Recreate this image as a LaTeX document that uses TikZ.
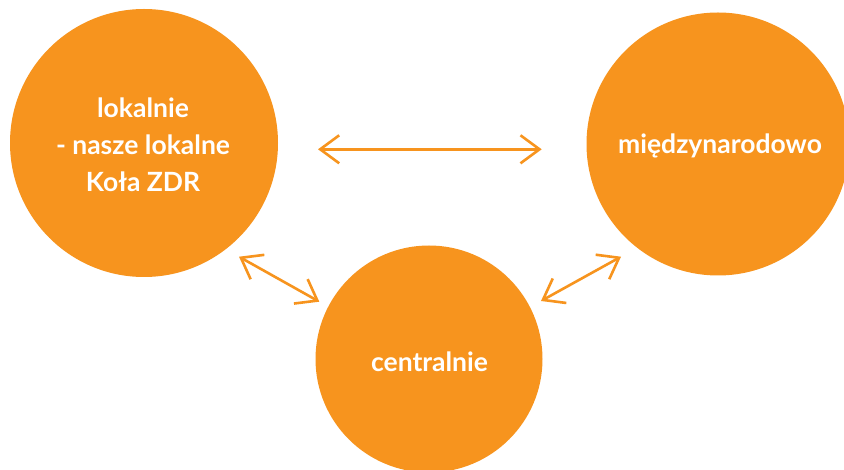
\documentclass[tikz,border=0pt]{standalone}
\usepackage{fontspec}
\setmainfont{Lato}
\usetikzlibrary{arrows.meta}
\definecolor{zdrorange}{RGB}{247,148,30}
\tikzset{
  blob/.style={circle, fill=zdrorange, draw=none, inner sep=0pt},
  blobtext/.style={text=white, font=\fontsize{26.5}{37}\selectfont\bfseries, align=center},
  link/.style={draw=zdrorange, line width=2.6pt,
    {Straight Barb[length=19pt,width=28pt,line width=2.6pt]}-{Straight Barb[length=19pt,width=28pt,line width=2.6pt]}}
}
\begin{document}
\begin{tikzpicture}[x=1pt,y=-1pt]
\useasboundingbox (0,0) rectangle (844,470);
\clip (0,0) rectangle (844,470);
\fill[white] (0,0) rectangle (844,470);
% circles
\node[blob, minimum size=268pt] (lok) at (144,143) {};
\node[blob, minimum size=263pt] (miedz) at (718,144) {};
\node[blob, minimum size=227pt] (cent) at (429,359) {};
% texts (base anchor = baseline of the last line)
\node[blobtext, anchor=base] (loktxt) at (143,192) {lokalnie\\- nasze lokalne\\Koła ZDR};
\node[blobtext, anchor=base] (miedztxt) at (720,154) {międzynarodowo};
\node[blobtext, anchor=base] (centtxt) at (429.5,372) {centralnie};
% arrow endpoints
\coordinate (h1) at (318,149.3);
\coordinate (h2) at (541.7,149.3);
\coordinate (l1) at (239,256.7);
\coordinate (l2) at (319.3,301.7);
\coordinate (r1) at (621,256.7);
\coordinate (r2) at (541,301);
\draw[link] (h1) -- (h2);
\draw[link] (l1) -- (l2);
\draw[link] (r2) -- (r1);
\end{tikzpicture}
\end{document}
